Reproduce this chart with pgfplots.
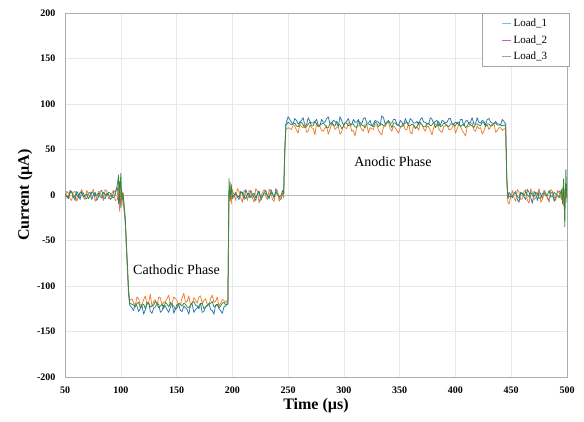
\documentclass[border=0pt]{standalone}
\usepackage{pgfplots}
\pgfplotsset{compat=1.18}
\usepackage{pgfplotstable}
\usepackage{fontspec}
\setmainfont{Liberation Serif}

\definecolor{lblue}{RGB}{40,116,178}
\definecolor{lorange}{RGB}{237,125,49}
\definecolor{lgreen}{RGB}{46,140,64}
\definecolor{legA}{RGB}{110,196,222}
\definecolor{legB}{RGB}{196,96,200}
\definecolor{legC}{RGB}{150,172,150}

% time (us), Load_1, Load_2, Load_3 current (uA)
\pgfplotstableread{
t a b c
50 2 -3 1
51.5 -2 4 -1
53 -4 2 -2
54.5 5 -4 2
56 3 -6 4
57.5 -1 3 -3
59 -6 4 -1
60.5 4 -7 1
62 1 -2 -3
63.5 -5 2 3
65 4 6 2
66.5 2 -3 -2
68 -3 -5 0
69.5 -4 5 1
71 2 1 -4
72.5 3 -2 -1
74 -5 3 3
75.5 0 6 2
77 3 -7 -1
78.5 -6 -3 0
80 -2 4 2
81.5 4 2 -2
83 5 -1 -3
84.5 -3 -6 3
86 -4 6 1
87.5 2 4 -1
89 1 -4 3
90.5 -5 -2 2
92 -3 2 -2
93.5 3 5 -3
95 4 -6 0
97 8 -5 12
98 -10 14 22
99 15 -18 -8
100 -14 6 24
101 4 -12 -6
102 -3 3 2
104 -30 -28 -25
106 -85 -80 -78
107 -110 -105 -104
108 -121 -116 -119
110 -124 -114 -120
111.5 -127 -119 -121
113 -119 -122 -123
114.5 -122 -112 -119
116 -128 -114 -118
117.5 -125 -121 -124
119 -121 -120 -121
120.5 -131 -115 -120
122 -126 -111 -125
123.5 -120 -120 -118
125 -118 -118 -119
126.5 -128 -109 -123
128 -130 -123 -122
129.5 -124 -117 -121
131 -123 -115 -117
132.5 -119 -122 -119
134 -120 -112 -124
135.5 -129 -113 -122
137 -127 -121 -120
138.5 -121 -118 -125
140 -122 -117 -118
141.5 -126 -114 -120
143 -129 -110 -123
144.5 -123 -121 -118
146 -119 -119 -121
147.5 -130 -112 -122
149 -125 -114 -126
150.5 -120 -116 -124
152 -121 -122 -119
153.5 -127 -120 -120
155 -128 -113 -122
156.5 -122 -108 -119
158 -124 -118 -120
159.5 -126 -117 -123
161 -131 -111 -124
162.5 -121 -121 -121
164 -120 -120 -118
165.5 -129 -113 -117
167 -126 -115 -121
168.5 -124 -119 -122
170 -122 -112 -125
171.5 -119 -111 -120
173 -129 -119 -119
174.5 -128 -116 -125
176 -123 -114 -123
177.5 -122 -120 -121
179 -119 -121 -120
180.5 -126 -114 -119
182 -127 -110 -117
183.5 -131 -118 -123
185 -121 -117 -122
186.5 -120 -112 -120
188 -125 -122 -124
189.5 -127 -119 -122
191 -130 -115 -119
192.5 -123 -116 -118
194 -122 -118 -121
196 -118 -115 -120
197 5 -8 18
198 -6 14 -4
199 8 -10 12
200 -4 6 -2
203 3 -6 1
204.5 -2 7 -1
206 -5 4 -2
207.5 4 -3 2
209 2 -8 3
210.5 -5 5 -2
212 6 2 -4
213.5 1 -6 1
215 -3 5 2
216.5 5 3 -3
218 1 -3 0
219.5 -3 -8 2
221 -6 7 -3
222.5 2 4 0
224 4 -9 4
225.5 -6 -2 -3
227 -2 3 -1
228.5 3 6 2
230 5 -2 2
231.5 -1 -5 -1
233 -4 6 -3
234.5 6 3 3
236 2 -5 1
237.5 -4 -7 -2
239 7 4 3
240.5 1 5 1
242 -3 -7 -2
243.5 -5 -3 -1
245 1 2 5
246 2 -3 1
247 50 45 48
248 78 72 76
250 86 74 80
253 80 72 77
254.5 78 76 78
256 84 76 79
257.5 82 71 76
259 78 68 75
260.5 80 78 79
262 82 75 80
263.5 85 74 77
265 76 79 74
266.5 77 69 75
268 85 70 78
269.5 81 77 80
271 79 74 76
272.5 79 73 76
274 81 66 81
275.5 83 79 78
277 77 77 75
278.5 76 75 77
280 83 71 78
281.5 80 70 79
283 80 73 77
284.5 84 76 74
286 86 67 74
287.5 78 72 78
289 78 78 80
290.5 82 78 76
292 81 72 76
293.5 79 74 81
295 75 75 78
296.5 86 67 77
298 82 69 73
299.5 77 77 75
301 79 74 79
302.5 81 73 79
304 84 79 76
305.5 78 79 77
307 77 70 78
308.5 83 71 78
310 80 65 75
311.5 80 75 74
313 83 76 81
314.5 76 76 80
316 78 72 77
317.5 84 70 76
319 85 78 74
320.5 79 78 78
322 79 68 78
323.5 82 74 77
325 76 73 76
326.5 78 72 75
328 82 77 80
329.5 81 77 79
331 80 71 75
332.5 77 68 77
334 87 66 78
335.5 85 75 76
337 78 75 77
338.5 80 79 80
340 81 80 82
341.5 79 73 78
343 79 70 74
344.5 83 76 79
346 83 74 79
347.5 78 71 77
349 76 68 77
350.5 82 74 75
352 80 76 75
353.5 76 78 78
355 84 72 79
356.5 80 72 80
358 78 79 76
359.5 84 69 76
361 82 67 78
362.5 79 77 77
364 79 74 73
365.5 81 75 75
367 77 71 80
368.5 83 80 79
370 85 77 77
371.5 80 73 75
373 80 70 75
374.5 78 76 78
376 78 75 79
377.5 85 71 76
379 83 66 77
380.5 79 74 80
382 81 78 74
383.5 82 78 77
385 76 73 81
386.5 77 70 75
388 82 69 76
389.5 81 75 79
391 79 76 78
392.5 80 77 76
394 84 72 75
395.5 84 72 78
397 78 74 78
398.5 78 79 77
400 80 68 76
401.5 79 73 80
403 77 77 80
404.5 83 76 75
406 83 71 77
407.5 76 68 78
409 81 65 74
410.5 82 75 76
412 79 75 79
413.5 80 78 77
415 85 79 76
416.5 78 72 74
418 78 70 78
419.5 85 76 78
421 80 73 77
422.5 79 74 76
424 82 67 80
425.5 81 70 79
427 77 76 75
428.5 83 77 78
430 84 72 78
431.5 80 75 76
433 79 78 76
434.5 78 79 79
436 81 69 79
437.5 78 71 77
439 78 74 77
440.5 77 74 77
442 83 71 76
444 80 73 77
445 78 72 76
446 20 15 18
447 -4 -8 -3
448 3 -10 -2
451 -3 5 -1
452.5 2 -3 1
454 4 -7 2
455.5 -5 6 -2
457 -8 3 -3
458.5 3 -5 2
460 2 -4 1
461.5 -2 4 -1
463 -5 6 4
464.5 6 -6 0
466 3 -9 -2
467.5 -3 7 3
469 -9 2 0
470.5 4 -5 -2
472 1 -3 3
473.5 -6 2 1
475 5 7 -4
476.5 1 -8 -3
478 -4 -5 2
479.5 5 4 2
481 2 1 -1
482.5 -3 -4 0
484 -6 -8 5
485.5 2 6 -2
487 3 4 -2
488.5 -7 -2 3
490 -2 -6 1
491.5 3 5 -1
493 4 3 -3
495 2 -5 6
496 -4 8 -10
497 7 -12 18
498 -10 6 -35
499 4 -3 28
500 -2 5 -8
}\currentdata

\begin{document}
\begin{tikzpicture}
\useasboundingbox (0pt,0pt) rectangle (584pt,422pt);
\begin{axis}[
  at={(65pt,45pt)}, anchor=south west,
  scale only axis, width=502pt, height=364pt,
  xmin=50, xmax=500, ymin=-200, ymax=200,
  xtick={50,100,...,500}, ytick={-200,-150,...,200},
  grid=major,
  major grid style={draw=gray!18, line width=0.5pt},
  axis line style={draw=gray!65, line width=0.7pt},
  major tick length=0pt,
  tick label style={font=\fontsize{10}{12}\selectfont\bfseries},
  /pgf/number format/assume math mode=true,
  /pgf/number format/1000 sep={},
  xticklabel style={yshift=-6pt},
  yticklabel style={xshift=-6pt},
  xlabel={Time (\textmu s)}, ylabel={Current (\textmu A)},
  label style={font=\fontsize{16}{18}\selectfont\bfseries},
  xlabel style={yshift=2pt},
  ylabel style={yshift=-2pt},
  legend style={at={(rel axis cs:1.005,1.0)}, anchor=north east,
    draw=gray!70, line width=0.6pt, font=\fontsize{11}{12}\selectfont,
    inner xsep=20pt, inner ysep=4pt, row sep=3pt},
  legend cell align=left,
  legend image code/.code={\draw[#1, line width=0.8pt] (0pt,0pt) -- (9pt,0pt);},
  every axis plot/.append style={line width=0.75pt, line join=round},
]
\addlegendimage{legA}\addlegendentry{Load\_1}
\addlegendimage{legB}\addlegendentry{Load\_2}
\addlegendimage{legC}\addlegendentry{Load\_3}
\draw[gray!55, line width=0.8pt] (axis cs:50,0) -- (axis cs:500,0);
\addplot[lblue, forget plot] table[x=t, y=a] {\currentdata};
\addplot[lorange, forget plot] table[x=t, y=b] {\currentdata};
\addplot[lgreen, forget plot] table[x=t, y=c] {\currentdata};
\node[font=\fontsize{14}{16}\selectfont] at (axis cs:150,-82) {Cathodic Phase};
\node[font=\fontsize{14}{16}\selectfont] at (axis cs:344,37) {Anodic Phase};
\end{axis}
\end{tikzpicture}
\end{document}
